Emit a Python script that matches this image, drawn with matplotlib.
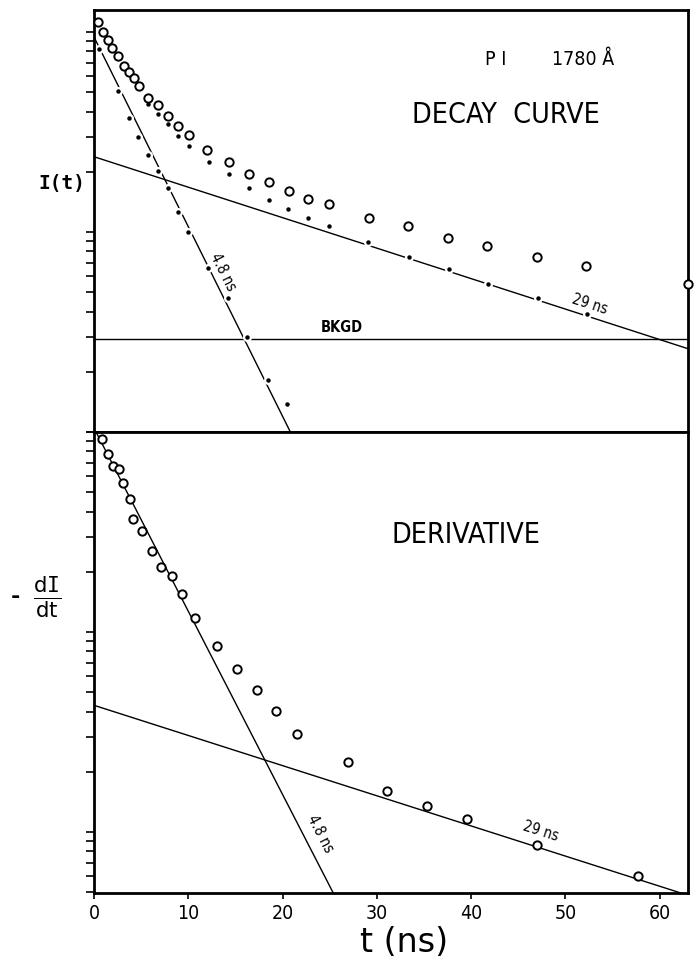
import numpy as np
import matplotlib
matplotlib.use('Agg')
import matplotlib.pyplot as plt
from matplotlib import font_manager as fm
from matplotlib.ticker import LogLocator, NullFormatter, NullLocator, FixedLocator

# ---------------- data ----------------
# Upper panel: measured decay curve I(t) (open circles)
top_t = [0.46, 0.92, 1.52, 1.95, 2.58, 3.22, 3.71, 4.24, 4.77, 5.76, 6.79, 7.85,
         8.94, 10.1, 11.98, 14.28, 16.47, 18.56, 20.7, 22.7, 24.95, 29.2, 33.3,
         37.5, 41.7, 47.0, 52.2, 63.0]
top_I = [112, 100, 91, 83, 76, 68, 63, 59, 54, 47, 43, 38,
         34, 30.5, 25.7, 22.4, 19.5, 17.8, 16.0, 14.6, 13.8, 11.7, 10.7,
         9.3, 8.5, 7.5, 6.8, 5.5]

# Upper panel: background-subtracted points (slow component, dots)
slow_t = [5.76, 6.8, 7.88, 8.94, 10.07, 12.2, 14.35, 16.47, 18.6, 20.6, 22.7,
          24.95, 29.1, 33.4, 37.6, 41.8, 47.05, 52.3]
slow_I = [43.6, 38.9, 34.7, 30.2, 26.9, 22.4, 19.5, 16.6, 14.5, 13.0, 11.7,
          10.7, 8.9, 7.5, 6.5, 5.5, 4.7, 3.9]

# Upper panel: slow-component-subtracted points (fast component, dots)
fast_t = [0.53, 2.58, 3.71, 4.7, 5.76, 6.8, 7.8, 8.94, 10.0, 12.05, 14.25,
          16.2, 18.4, 20.5]
fast_I = [82, 51, 37, 30, 24.3, 20.2, 16.6, 12.6, 10.0, 6.6, 4.7,
          3.0, 1.82, 1.38]

bkgd_level = 2.92

# fitted exponentials: amplitude, lifetime (ns)
top_fast_A, top_fast_tau = 94.4, 4.58
top_slow_A, top_slow_tau = 23.8, 28.5

# Lower panel: derivative -dI/dt (open circles)
der_t = [0.81, 1.45, 2.05, 2.61, 3.07, 3.82, 4.17, 5.05, 6.1, 7.14, 8.27, 9.3,
         10.75, 13.0, 15.15, 17.25, 19.3, 21.5, 26.9, 31.1, 35.3, 39.6, 47.0, 57.7]
der_I = [91.8, 77.6, 67.6, 65.6, 55.8, 46.0, 36.7, 32.0, 25.5, 21.2, 19.1, 15.5,
         11.7, 8.5, 6.5, 5.1, 4.05, 3.09, 2.24, 1.61, 1.35, 1.16, 0.86, 0.60]

bot_fast_A, bot_fast_tau = 104.7, 4.74
bot_slow_A, bot_slow_tau = 4.30, 28.8

x_ticks = [0, 10, 20, 30, 40, 50, 60]

# ---------------- font selection ----------------
_names = {f.name for f in fm.fontManager.ttflist}
_cond_dejavu = any(f.name == 'DejaVu Sans' and f.stretch in ('condensed', 'semi-condensed')
                   for f in fm.fontManager.ttflist)
if 'Liberation Sans Narrow' in _names:
    TXT = dict(family=['Liberation Sans Narrow', 'DejaVu Sans'])
    big, mid, tick = 20, 14, 14.5
elif _cond_dejavu:
    TXT = dict(family=['DejaVu Sans'], stretch='condensed')
    big, mid, tick = 20.5, 14, 14
else:
    TXT = dict(family=['Liberation Sans', 'DejaVu Sans'])
    big, mid, tick = 18.5, 13.5, 13.5

plt.rcParams['font.family'] = TXT['family']

fig = plt.figure(figsize=(7.0, 9.65), dpi=100)
ax1 = fig.add_axes([0.1343, 0.5523, 0.8486, 0.4373])
ax2 = fig.add_axes([0.1343, 0.07461, 0.8486, 0.4777])

for ax in (ax1, ax2):
    ax.set_yscale('log')
    ax.set_xlim(0, 63)
    ax.yaxis.set_major_locator(LogLocator(base=10, subs=np.arange(1, 10), numticks=30))
    ax.yaxis.set_minor_locator(NullLocator())
    ax.yaxis.set_major_formatter(NullFormatter())
    ax.yaxis.set_minor_formatter(NullFormatter())
    ax.tick_params(axis='y', which='both', direction='out', length=6, width=1.2,
                   left=True, right=False)
    for s in ax.spines.values():
        s.set_linewidth(2.0)

ax1.set_ylim(1, 10 ** 2.11)
ax2.set_ylim(10 ** -0.305, 100)

ax1.tick_params(axis='x', which='both', bottom=False, labelbottom=False)
ax2.xaxis.set_major_locator(FixedLocator(x_ticks))
ax2.set_xticklabels([str(v) for v in x_ticks])
ax2.tick_params(axis='x', direction='out', length=4, width=1.2, pad=4)
for lab in ax2.get_xticklabels():
    lab.set_fontsize(tick)
    if 'stretch' in TXT:
        lab.set_fontstretch(TXT['stretch'])

line_kw = dict(color='black', lw=1.0, zorder=2)
halo_kw = dict(ls='none', marker='o', ms=6.5, mfc='white', mec='none', zorder=2.5)
dot_kw = dict(ls='none', marker='o', ms=3.2, mfc='black', mec='black', mew=0, zorder=3)
circ_kw = dict(ls='none', marker='o', ms=6.0, mfc='white', mec='black', mew=1.4, zorder=4)

# ---- upper panel ----
tt = np.linspace(0, 63, 400)
ax1.plot(tt, top_fast_A * np.exp(-tt / top_fast_tau), **line_kw)
ax1.plot(tt, top_slow_A * np.exp(-tt / top_slow_tau), **line_kw)
ax1.axhline(bkgd_level, color='black', lw=1.0, zorder=2)
for xs, ys in ((fast_t, fast_I), (slow_t, slow_I)):
    ax1.plot(xs, ys, **halo_kw)
    ax1.plot(xs, ys, **dot_kw)
ax1.plot(top_t, top_I, clip_on=False, **circ_kw)

ax1.text(41.5, 10 ** 1.835, 'P I', fontsize=mid, ha='left', va='baseline', **TXT)
ax1.text(48.6, 10 ** 1.835, '1780 Å', fontsize=mid, ha='left', va='baseline', **TXT)
ax1.text(33.7, 10 ** 1.545, 'DECAY  CURVE', fontsize=big, ha='left', va='baseline', **TXT)
ax1.text(24.0, 10 ** 0.5, 'BKGD', fontsize=10.5, fontweight='bold', ha='left',
         va='baseline', **TXT)
ax1.text(13.7, 10 ** 0.80, '4.8 ns', fontsize=10.5, rotation=-63.6,
         rotation_mode='anchor', ha='center', va='center', **TXT)
ax1.text(52.6, 10 ** 0.64, '29 ns', fontsize=10.5, rotation=-17.9,
         rotation_mode='anchor', ha='center', va='center', **TXT)

# ---- lower panel ----
ax2.plot(tt, bot_fast_A * np.exp(-tt / bot_fast_tau), **line_kw)
ax2.plot(tt, bot_slow_A * np.exp(-tt / bot_slow_tau), **line_kw)
ax2.plot(der_t, der_I, clip_on=False, **circ_kw)

ax2.text(31.6, 10 ** 1.445, 'DERIVATIVE', fontsize=big, ha='left', va='baseline', **TXT)
ax2.text(24.0, 10 ** -0.01, '4.8 ns', fontsize=10.5, rotation=-62.7,
         rotation_mode='anchor', ha='center', va='center', **TXT)
ax2.text(47.4, 10 ** 0.005, '29 ns', fontsize=10.5, rotation=-17.7,
         rotation_mode='anchor', ha='center', va='center', **TXT)

# ---- axis labels ----
fig.text(62 / 700, 1 - 183 / 965, 'I(t)', fontsize=14, fontweight='bold',
         family='DejaVu Sans Mono', ha='center', va='center')
fig.text(15 / 700, 1 - 597 / 965, '-', fontsize=16, fontweight='bold',
         family='DejaVu Sans', ha='center', va='center')
fig.text(47 / 700, 1 - 597 / 965, r'$\frac{\mathrm{d}\mathtt{I}}{\mathrm{dt}}$',
         fontsize=22, ha='center', va='center')
fig.text(404 / 700, 1 - 943 / 965, 't (ns)', fontsize=24, family='DejaVu Sans',
         ha='center', va='center')

fig.savefig('out.png', dpi=100, facecolor='white')
